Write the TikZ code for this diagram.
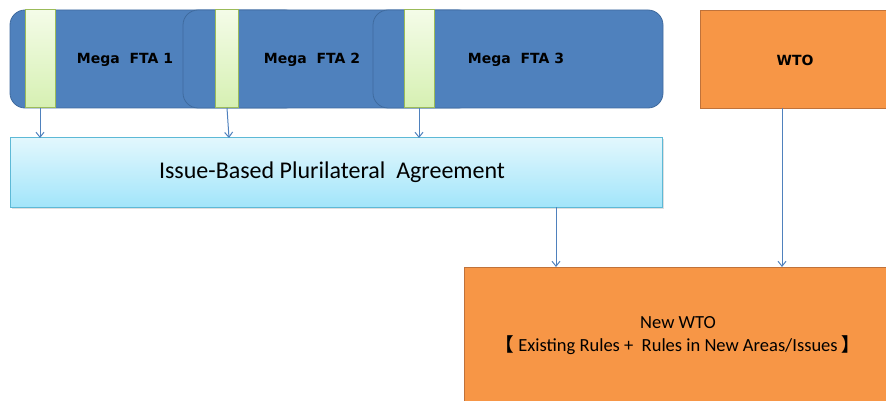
\documentclass[tikz,border=0pt]{standalone}
\usepackage{fontspec}
\setmainfont{Carlito}
\newfontfamily\cjk{Noto Sans CJK SC}
\newfontfamily\dejabold{DejaVu Sans}
\usetikzlibrary{arrows.meta,shadows}
\definecolor{ftablue}{HTML}{4F81BD}
\definecolor{ftaedge}{HTML}{3F6A9E}
\definecolor{barfillA}{HTML}{F4FCE8}
\definecolor{barfillB}{HTML}{D6F0B2}
\definecolor{baredge}{HTML}{9BBB59}
\definecolor{cyanA}{HTML}{E2F7FD}
\definecolor{cyanB}{HTML}{A2E5FA}
\definecolor{cyanedge}{HTML}{5DB9D6}
\definecolor{wtoorange}{HTML}{F79646}
\definecolor{wtoedge}{HTML}{C0723A}
\definecolor{arrowblue}{HTML}{4F81BD}
\tikzset{
  ftabox/.style={draw=ftaedge, fill=ftablue, rounded corners=15pt, line width=0.8pt, inner sep=0pt, minimum height=98pt},
  barbox/.style={draw=baredge, top color=barfillA, bottom color=barfillB, line width=1pt, inner sep=0pt, minimum height=98pt},
  ftatext/.style={font=\dejabold\bfseries\fontsize{14}{16}\selectfont, text=black},
  orangebox/.style={draw=wtoedge, fill=wtoorange, line width=0.8pt, inner sep=0pt},
  conn/.style={draw=arrowblue, line width=1pt, -{Straight Barb[length=5pt,width=8pt]}},
}
\begin{document}
\begin{tikzpicture}[x=1pt,y=-1pt]
\useasboundingbox (0,0) rectangle (886,401);
% Mega FTA boxes
\node[ftabox, minimum width=290pt] (fta1) at (155,59) {};
\node[ftabox, minimum width=290pt] (fta2) at (328,59) {};
\node[ftabox, minimum width=290pt] (fta3) at (518,59) {};
% bars
\node[barbox, minimum width=30pt] (bar1) at (40,59) {};
\node[barbox, minimum width=23pt] (bar2) at (226.5,59) {};
\node[barbox, minimum width=30pt] (bar3) at (419,59) {};
% labels
\node[ftatext] (t1) at (125,60) {Mega\ \ FTA 1};
\node[ftatext] (t2) at (312,60) {Mega\ \ FTA 2};
\node[ftatext] (t3) at (516,60) {Mega\ \ FTA 3};
% Issue-based box
\node[draw=cyanedge, top color=cyanA, bottom color=cyanB, line width=1pt, inner sep=0pt,
      minimum width=652pt, minimum height=69pt, drop shadow={opacity=0.25,shadow xshift=1.5pt,shadow yshift=-1.5pt}] (iss) at (336,172.5) {};
\node[font=\fontsize{24}{28}\selectfont] (isst) at (332,172) {Issue-Based Plurilateral\ \ Agreement};
% WTO
\node[orangebox, minimum width=200pt, minimum height=98pt] (wto) at (800,59) {};
\node[font=\dejabold\bfseries\fontsize{14}{16}\selectfont] (wtot) at (795,60) {WTO};
% New WTO
\node[orangebox, minimum width=436pt, minimum height=160pt] (nwto) at (682,347) {};
\node[font=\fontsize{18.5}{23}\selectfont, align=center] (nwtot) at (678,336) {New WTO\\{\cjk\bfseries 【}\ Existing Rules +\ \ Rules in New Areas/Issues\ {\cjk\bfseries 】}};
% connectors
\coordinate (a1s) at (40,108); \coordinate (a1e) at (40,138);
\coordinate (a2s) at (227,108); \coordinate (a2e) at (229,138);
\coordinate (a3s) at (419,108); \coordinate (a3e) at (419,138);
\coordinate (a4s) at (556,207); \coordinate (a4e) at (556,267);
\coordinate (a5s) at (782,108); \coordinate (a5e) at (782,267);
\draw[conn] (a1s) -- (a1e);
\draw[conn] (a2s) -- (a2e);
\draw[conn] (a3s) -- (a3e);
\draw[conn] (a4s) -- (a4e);
\draw[conn] (a5s) -- (a5e);
\end{tikzpicture}
\end{document}
